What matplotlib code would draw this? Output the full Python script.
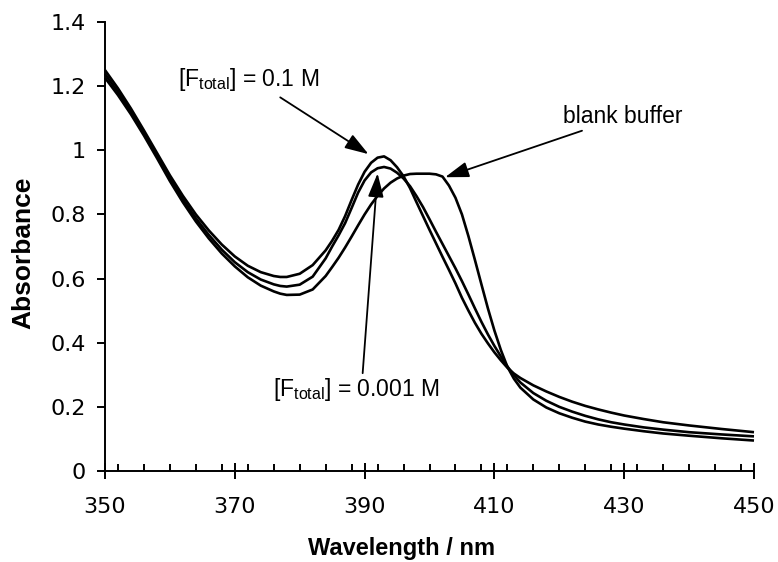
import matplotlib
matplotlib.use("Agg")
import matplotlib.pyplot as plt
from matplotlib.ticker import MultipleLocator

# Absorption spectra (absorbance vs wavelength in nm)
wavelength = [350, 352, 354, 356, 358, 360, 362, 364, 366, 368, 370, 372, 374, 376,
              377, 378, 380, 382, 384, 385, 386, 387, 388, 389, 390, 391, 392, 393,
              394, 395, 396, 397, 398, 399, 400, 401, 402, 403, 404, 405, 406, 407,
              408, 409, 410, 411, 412, 413, 414, 416, 418, 420, 422, 424, 426, 428,
              430, 433, 436, 440, 445, 450]

abs_f_0_1 = [1.250, 1.193, 1.130, 1.062, 0.992, 0.922, 0.858, 0.800, 0.750, 0.706,
             0.669, 0.640, 0.620, 0.608, 0.605, 0.605, 0.615, 0.642, 0.688, 0.718,
             0.752, 0.795, 0.845, 0.893, 0.933, 0.961, 0.977, 0.981, 0.969, 0.947,
             0.919, 0.882, 0.838, 0.795, 0.752, 0.710, 0.668, 0.627, 0.585, 0.540,
             0.500, 0.462, 0.428, 0.398, 0.370, 0.345, 0.322, 0.304, 0.290, 0.267,
             0.248, 0.231, 0.216, 0.203, 0.192, 0.182, 0.173, 0.162, 0.152, 0.142,
             0.131, 0.121]

abs_f_0_001 = [1.238, 1.182, 1.120, 1.053, 0.983, 0.912, 0.847, 0.788, 0.736, 0.690,
               0.651, 0.620, 0.597, 0.582, 0.577, 0.575, 0.581, 0.606, 0.663, 0.700,
               0.735, 0.773, 0.820, 0.868, 0.906, 0.931, 0.944, 0.948, 0.943, 0.930,
               0.912, 0.888, 0.857, 0.823, 0.785, 0.746, 0.708, 0.670, 0.632, 0.592,
               0.550, 0.507, 0.465, 0.426, 0.390, 0.357, 0.326, 0.299, 0.276, 0.243,
               0.219, 0.200, 0.185, 0.172, 0.161, 0.152, 0.145, 0.136, 0.129, 0.121,
               0.114, 0.108]

abs_blank = [1.226, 1.172, 1.112, 1.046, 0.976, 0.904, 0.838, 0.778, 0.725, 0.678,
             0.638, 0.604, 0.578, 0.560, 0.553, 0.549, 0.550, 0.566, 0.608, 0.636,
             0.665, 0.697, 0.731, 0.766, 0.800, 0.831, 0.858, 0.881, 0.899, 0.912,
             0.921, 0.926, 0.927, 0.927, 0.927, 0.925, 0.918, 0.890, 0.852, 0.800,
             0.732, 0.658, 0.582, 0.507, 0.438, 0.377, 0.325, 0.288, 0.260, 0.223,
             0.198, 0.180, 0.166, 0.154, 0.145, 0.138, 0.132, 0.124, 0.117, 0.110,
             0.102, 0.095]

x_ticks = [350, 370, 390, 410, 430, 450]
y_ticks = [0, 0.2, 0.4, 0.6, 0.8, 1.0, 1.2, 1.4]
y_tick_labels = ["0", "0.2", "0.4", "0.6", "0.8", "1", "1.2", "1.4"]

plt.rcParams["mathtext.fontset"] = "custom"
plt.rcParams["mathtext.rm"] = "Liberation Sans"
plt.rcParams["mathtext.it"] = "Liberation Sans:italic"
plt.rcParams["mathtext.bf"] = "Liberation Sans:bold"

W, H = 778, 562
fig = plt.figure(figsize=(W / 100, H / 100), dpi=100)
ax = fig.add_axes([105 / W, 91 / H, 649 / W, 449 / H])

for series in (abs_f_0_1, abs_f_0_001, abs_blank):
    ax.plot(wavelength, series, color="black", lw=1.9,
            solid_joinstyle="round", solid_capstyle="butt", clip_on=False)

ax.set_xlim(350, 450)
ax.set_ylim(0, 1.4)
for side in ("top", "right"):
    ax.spines[side].set_visible(False)
for side in ("left", "bottom"):
    ax.spines[side].set_linewidth(1.4)

ax.set_xticks(x_ticks)
ax.xaxis.set_minor_locator(MultipleLocator(4))
ax.set_yticks(y_ticks)
ax.set_yticklabels(y_tick_labels)

ax.tick_params(axis="x", which="major", direction="inout", length=11.5, width=1.4,
               pad=13.2, labelsize=16)
ax.tick_params(axis="x", which="minor", direction="in", length=5, width=1.4)
ax.tick_params(axis="y", which="major", direction="out", length=5.8, width=1.4,
               pad=8.3, labelsize=16)
for lab in ax.get_xticklabels() + ax.get_yticklabels():
    lab.set_fontfamily("DejaVu Sans")

fig.text(23 / W, 1 - 253 / H, "Absorbance", rotation=90, ha="center", va="center",
         fontsize=19, fontweight="bold", family="Liberation Sans")
fig.text(402 / W, 7 / H, "Wavelength / nm", ha="center", va="baseline",
         fontsize=17, fontweight="bold", family="Liberation Sans")

arrow = dict(arrowstyle="-|>,head_length=1.45,head_width=0.48", mutation_scale=10,
             color="black", lw=1.3, shrinkA=0, shrinkB=0)
label_kw = dict(fontsize=16.5, family="Liberation Sans", ha="left", va="baseline")

ax.text(361.3, 1.200, r"[F$_{\mathrm{total}}$] = 0.1 M", **label_kw)
ax.annotate("", xy=(390.6, 0.988), xytext=(377.0, 1.165), arrowprops=arrow)

ax.text(420.5, 1.085, "blank buffer", **label_kw)
ax.annotate("", xy=(402.4, 0.916), xytext=(423.5, 1.061), arrowprops=arrow)

ax.text(375.9, 0.234, r"[F$_{\mathrm{total}}$] = 0.001 M", **label_kw)
ax.annotate("", xy=(392.0, 0.928), xytext=(389.7, 0.305), arrowprops=arrow)

fig.savefig("out.png", dpi=100)
